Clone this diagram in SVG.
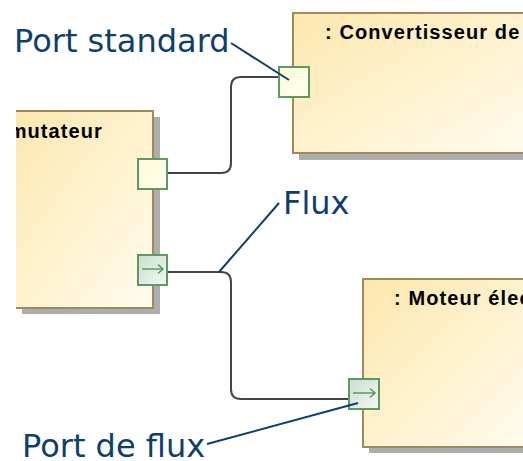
<svg xmlns="http://www.w3.org/2000/svg" width="523" height="461" viewBox="0 0 523 461">
<style>
.blk{stroke:#9c8c5c;stroke-width:2;fill:url(#gBlk)}
.shd{fill:#adadad}
.title{font-family:"Liberation Sans",Arial,sans-serif;font-weight:bold;font-size:20px;letter-spacing:1.1px;fill:#000}
.sport{fill:url(#gStd);stroke:#5b9b63;stroke-width:2}
.fport{fill:url(#gFlow);stroke:#5b9b63;stroke-width:2}
.arrow{fill:none;stroke:#5b9b63;stroke-width:1.6}
.conn{fill:none;stroke:#454545;stroke-width:2}
.note{font-family:"DejaVu Sans",sans-serif;font-size:32px;fill:#0d3f6e}
.lead{fill:none;stroke:#0d3f6e;stroke-width:2}
</style>
<defs>
<linearGradient id="gBlk" x1="0" y1="0" x2="1" y2="1">
<stop offset="0" stop-color="#fde7ad"/>
<stop offset="1" stop-color="#fffcee"/>
</linearGradient>
<linearGradient id="gStd" x1="0" y1="0" x2="1" y2="1">
<stop offset="0" stop-color="#fefbd8"/>
<stop offset="1" stop-color="#ffffee"/>
</linearGradient>
<linearGradient id="gFlow" x1="0" y1="0" x2="1" y2="1">
<stop offset="0" stop-color="#c9dfce"/>
<stop offset="1" stop-color="#f3f8f3"/>
</linearGradient>
<clipPath id="clipL"><rect x="16" y="100" width="140" height="220"/></clipPath>
</defs>
<rect width="523" height="461" fill="#fff"/>

<g id="connectors">
<path class="conn" d="M167,173 H221 Q231,173 231,163 V87 Q231,77 241,77 H279"/>
<path class="conn" d="M167,272 H221 Q231,272 231,282 V389 Q231,399 241,399 H349"/>
</g>

<g id="commutateur">
<rect class="shd" x="22" y="117" width="138" height="197"/>
<rect class="blk" x="10" y="111" width="143" height="197"/>
<rect x="0" y="100" width="16" height="220" fill="#fff"/>
<g clip-path="url(#clipL)"><text class="title" x="103" y="138" text-anchor="end">: Commutateur</text></g>
</g>

<g id="convertisseur">
<rect class="shd" x="299" y="19" width="240" height="141"/>
<rect class="blk" x="293" y="13" width="240" height="140"/>
<text class="title" x="325" y="39">: Convertisseur de</text>
</g>

<g id="moteur">
<rect class="shd" x="369" y="285" width="170" height="168"/>
<rect class="blk" x="363" y="279" width="170" height="168"/>
<text class="title" x="394" y="305">: Moteur électrique</text>
</g>

<g id="port-std-commutateur"><rect class="sport" x="138" y="159" width="29" height="30"/></g>
<g id="port-flow-commutateur">
<rect class="fport" x="138" y="255" width="29" height="30"/>
<path class="arrow" d="M142,269 H163 M158,264.5 L163,269 L158,273.5"/>
</g>
<g id="port-std-convertisseur"><rect class="sport" x="279" y="67" width="30" height="30"/></g>
<g id="port-flow-moteur">
<rect class="fport" x="349" y="379" width="30" height="30"/>
<path class="arrow" d="M353,393 H375 M370,388.5 L375,393 L370,397.5"/>
</g>

<g id="note-port-standard">
<text class="note" x="14" y="52">Port standard</text>
<line class="lead" x1="231" y1="43" x2="289" y2="80"/>
</g>
<g id="note-flux">
<text class="note" x="283" y="214">Flux</text>
<line class="lead" x1="279" y1="203" x2="219" y2="272"/>
</g>
<g id="note-port-flux">
<text class="note" x="22" y="457">Port de flux</text>
<line class="lead" x1="207" y1="444" x2="358" y2="403"/>
</g>
</svg>
